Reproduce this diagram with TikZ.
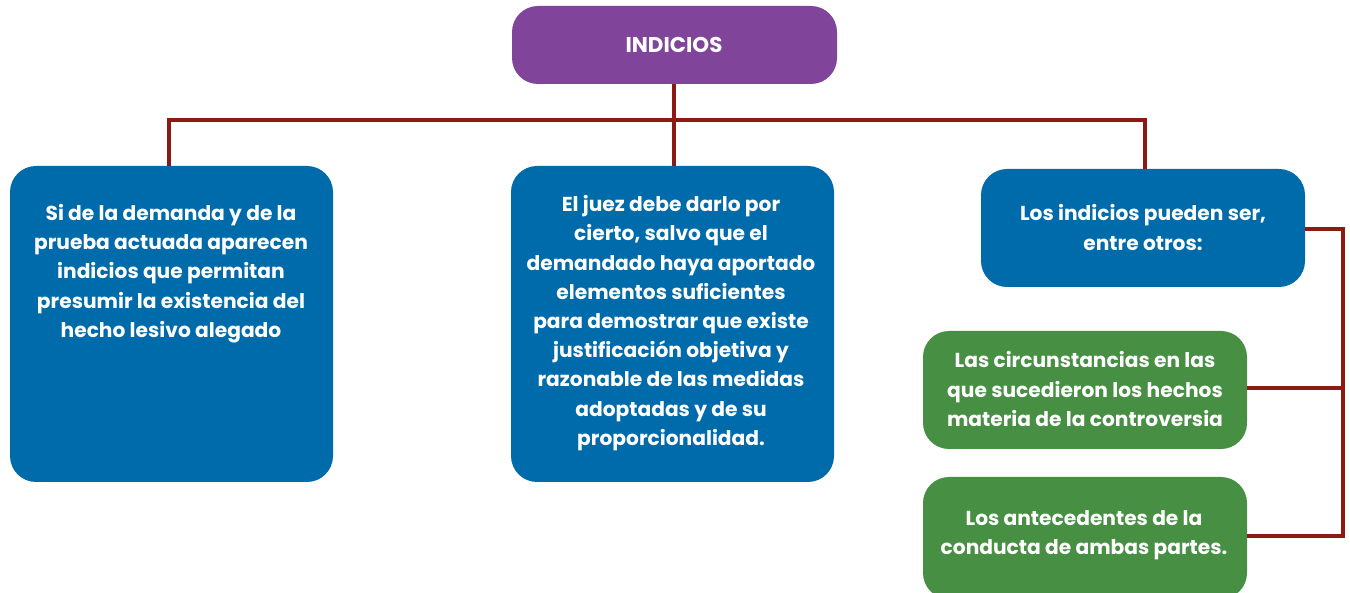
\documentclass[tikz,border=0pt]{standalone}
\usepackage{fontspec}
\setmainfont{Poppins}
\definecolor{purp}{HTML}{80449A}
\definecolor{bluebx}{HTML}{006BAA}
\definecolor{greenbx}{HTML}{468F43}
\definecolor{linec}{HTML}{8B1A12}
\tikzset{
  box/.style={rectangle, rounded corners=26pt, inner sep=0pt, draw=none},
  txt/.style={align=center, text=white, font=\bfseries\fontsize{20.2}{29.2}\selectfont, inner sep=0pt},
  conn/.style={draw=linec, line width=3.8pt}
}
\begin{document}
\begin{tikzpicture}[x=1pt,y=-1pt]
\useasboundingbox (0,0) rectangle (1350,593);
\clip (0,0) rectangle (1350,593);
% junction coordinates
\coordinate (hl) at (169,120);
\coordinate (hm) at (674,120);
\coordinate (hr) at (1145,120);
\coordinate (br) at (1343,229);
\coordinate (b1) at (1343,388);
\coordinate (b2) at (1343,536);
% boxes
\node[box, fill=purp, minimum width=325pt, minimum height=78pt] (top) at (674.5,45) {};
\node[txt, font=\bfseries\fontsize{21.4}{22}\selectfont] (toptxt) at (674,45) {INDICIOS};
\node[box, fill=bluebx, minimum width=323pt, minimum height=316pt] (left) at (171.5,324) {};
\node[txt] (lefttxt) at (171,273.5) {Si de la demanda y de la\\prueba actuada aparecen\\indicios que permitan\\presumir la existencia del\\hecho lesivo alegado};
\node[box, fill=bluebx, minimum width=323pt, minimum height=316pt] (mid) at (672.5,324) {};
\node[txt] (midtxt) at (671,323) {El juez debe darlo por\\cierto, salvo que el\\demandado haya aportado\\elementos suficientes\\para demostrar que existe\\justificación objetiva y\\razonable de las medidas\\adoptadas y de su\\proporcionalidad.};
\node[box, fill=bluebx, minimum width=324pt, minimum height=118pt] (right) at (1143,228) {};
\node[txt] (righttxt) at (1143,227.5) {Los indicios pueden ser,\\entre otros:};
\node[box, fill=greenbx, minimum width=324pt, minimum height=118pt] (g1) at (1085,390) {};
\node[txt] (g1txt) at (1085,389) {Las circunstancias en las\\que sucedieron los hechos\\materia de la controversia};
\node[box, fill=greenbx, minimum width=324pt, minimum height=122pt] (g2) at (1085,538) {};
\node[txt] (g2txt) at (1084,535.5) {Los antecedentes de la\\conducta de ambas partes.};
% connectors
\draw[conn] (top.south -| hm) -- (mid.north -| hm);
\draw[conn] (left.north -| hl) -- (hl) -- (hr) -- (right.north -| hr);
\draw[conn] (right.east |- br) -- (br) -- (b2) -- (g2.east |- b2);
\draw[conn] (g1.east |- b1) -- (b1);
\end{tikzpicture}
\end{document}
